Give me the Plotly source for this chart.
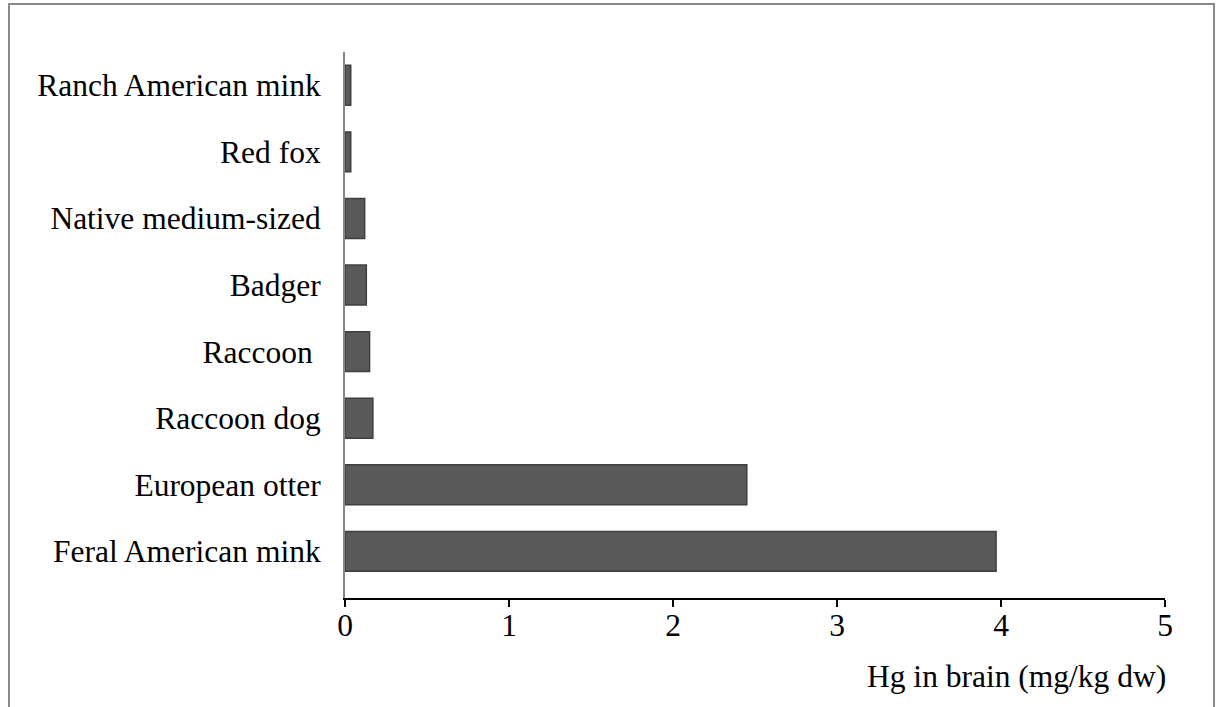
import plotly.graph_objects as go

categories = ["Feral American mink", "European otter", "Raccoon dog", "Raccoon ",
              "Badger", "Native medium-sized", "Red fox", "Ranch American mink"]
values = [3.97, 2.45, 0.17, 0.15, 0.13, 0.12, 0.035, 0.035]
x_ticks = [0, 1, 2, 3, 4, 5]
x_title = "Hg in brain (mg/kg dw)"

FONT = "Liberation Serif, Times New Roman, serif"
FS = 31.5

W, H = 1220, 707
sx0, sx1, sy0, sy1 = 345, 1165, 52, 598
L, T = sx0, sy0
R = W - sx1
B = H - sy1
pw, ph = W - L - R, H - T - B


def px(x):
    return (x - L) / pw


def py(y):
    return (T + ph - y) / ph


fig = go.Figure(go.Bar(
    y=categories, x=values, orientation="h",
    marker=dict(color="#595959", line=dict(color="#3f3f3f", width=1.5)),
    width=0.6,
))

fig.update_layout(
    width=W, height=H,
    margin=dict(l=L, r=R, t=T, b=B),
    paper_bgcolor="white", plot_bgcolor="white",
    font=dict(family=FONT, size=FS, color="black"),
    showlegend=False,
    xaxis=dict(range=[0, 5], tickvals=x_ticks, ticks="outside", ticklen=7,
               tickwidth=2, tickcolor="black", showline=True, linecolor="black",
               linewidth=2, showgrid=False, zeroline=False,
               ticklabelstandoff=-9,
               tickfont=dict(family=FONT, size=FS)),
    yaxis=dict(categoryorder="array", categoryarray=categories,
               range=[-0.7, len(categories) - 0.5],
               showline=True, linecolor="#868686", linewidth=2,
               ticks="", showgrid=False, zeroline=False,
               ticklabelstandoff=16,
               tickfont=dict(family=FONT, size=FS)),
    annotations=[dict(text=x_title, xref="paper", yref="paper",
                      x=px(1168), y=py(676),
                      xanchor="right", yanchor="middle", showarrow=False,
                      font=dict(family=FONT, size=FS))],
    shapes=[dict(type="rect", xref="paper", yref="paper",
                 x0=px(9), x1=px(1214),
                 y0=py(730), y1=py(4),
                 line=dict(color="#8a8a8a", width=2), layer="below")],
)

fig.write_html("out.html",
               config={"displayModeBar": False},
               post_script="document.body.style.margin='0';"
                           "document.body.style.overflow='hidden';")
